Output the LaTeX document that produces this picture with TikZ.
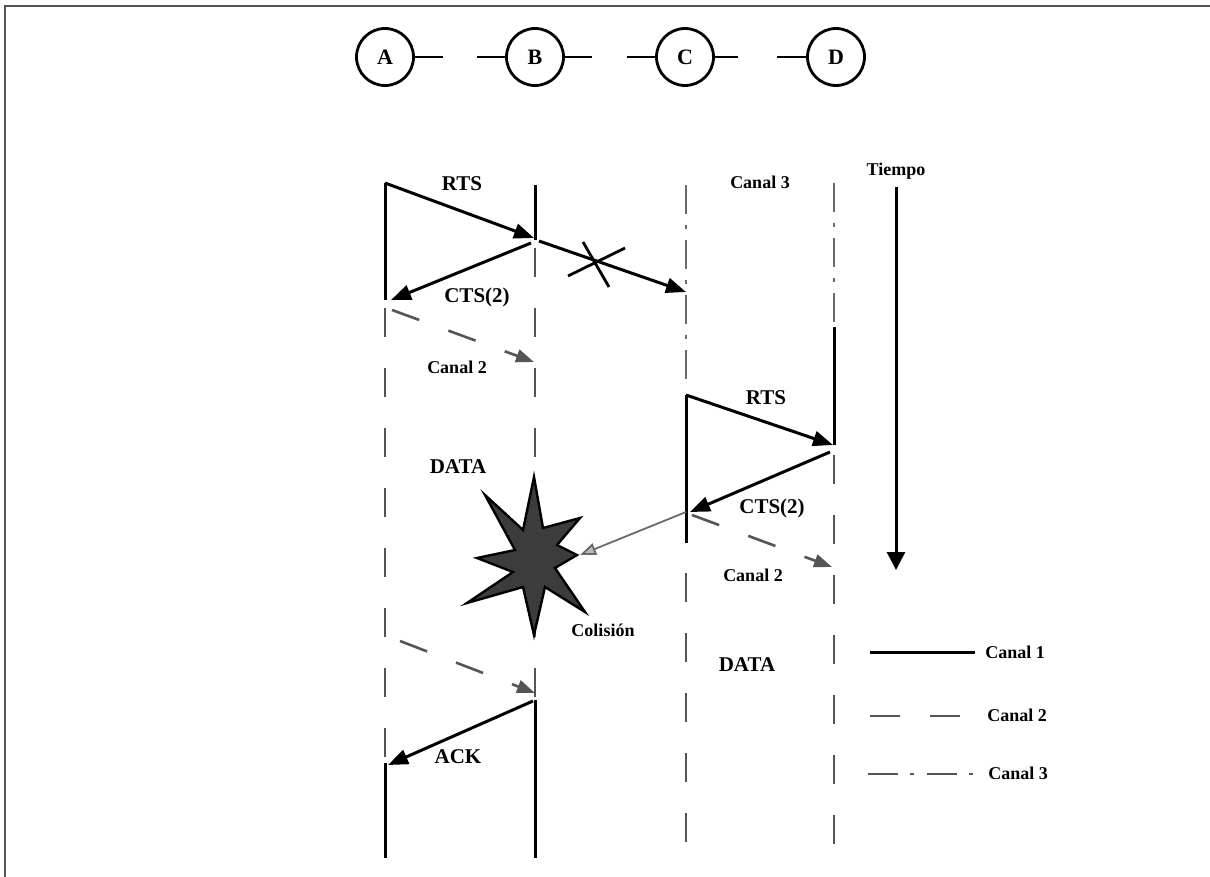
\documentclass[tikz,border=0pt]{standalone}
\usepackage{fontspec}
\setmainfont{Liberation Serif}
\usetikzlibrary{arrows.meta}
\definecolor{dgray}{HTML}{555555}
\definecolor{lgray}{HTML}{6A6A6A}
\definecolor{stargray}{HTML}{3C3C3C}
\begin{document}
\begin{tikzpicture}[x=1pt,y=-1pt,
  big/.style={font=\bfseries\fontsize{21}{25}\selectfont, inner sep=0pt},
  small/.style={font=\bfseries\fontsize{18}{21}\selectfont, inner sep=0pt},
  station/.style={circle, draw, line width=2.8pt, minimum size=57pt, inner sep=0pt, font=\bfseries\fontsize{22}{26}\selectfont},
  stub/.style={line width=2.8pt},
  chone/.style={line width=3pt, black},
  chtwo/.style={line width=2.6pt, dgray, dash pattern=on 29pt off 31pt},
  chthree/.style={line width=2.6pt, lgray, dash pattern=on 29pt off 11pt on 4pt off 11pt},
  msg/.style={line width=3pt, black, -{Triangle[length=20pt,width=15pt]}},
  dmsg/.style={line width=2.6pt, dgray, dash pattern=on 29pt off 31pt, -{Triangle[length=18pt,width=13pt,fill=dgray]}},
]
\useasboundingbox (0,0) rectangle (1210,877);
% frame
\draw[line width=1.8pt, dgray] (5,877) -- (5,6) -- (1210,6);

% stations
\node[station] (A) at (385,57) {A};
\node[station] (B) at (535,57) {B};
\node[station] (C) at (685,57) {C};
\node[station] (D) at (836,57) {D};
\draw[stub] (A.east) -- ++(28,0);
\draw[stub] (B.west) -- ++(-28,0);
\draw[stub] (B.east) -- ++(27,0);
\draw[stub] (C.west) -- ++(-28,0);
\draw[stub] (C.east) -- ++(23,0);
\draw[stub] (D.west) -- ++(-29,0);

% lane coordinates
\coordinate (A1) at (385,183); \coordinate (A2) at (385,300);
\coordinate (A3) at (385,308); \coordinate (A4) at (385,760);
\coordinate (A5) at (385,763); \coordinate (A6) at (385,858);
\coordinate (B1) at (535,185); \coordinate (B2) at (535,240);
\coordinate (B3) at (535,248); \coordinate (B4) at (535,698);
\coordinate (B5) at (535,700); \coordinate (B6) at (535,858);
\coordinate (C1) at (686,185); \coordinate (C2) at (686,390);
\coordinate (C3) at (686,395); \coordinate (C4) at (686,543);
\coordinate (C5) at (686,573); \coordinate (C6) at (686,858);
\coordinate (D1) at (834,183); \coordinate (D2) at (834,327);
\coordinate (D3) at (834,445); \coordinate (D4) at (834,455);
\coordinate (D6) at (834,858);

% lanes
\draw[chone] (A1) -- (A2);
\draw[chtwo] (A3) -- (A4);
\draw[chone] (A5) -- (A6);
\draw[chone] (B1) -- (B2);
\draw[chtwo] (B3) -- (B4);
\draw[chone] (B5) -- (B6);
\draw[chthree] (C1) -- (C2);
\draw[chone] (C3) -- (C4);
\draw[chtwo] (C5) -- (C6);
\draw[chthree] (D1) -- (D2);
\draw[chone] (D2) -- (D3);
\draw[chtwo] (D4) -- (D6);

% message end points
\coordinate (rts1e) at (534,238);
\coordinate (cts1s) at (531,243);
\coordinate (cts1e) at (391,300);
\coordinate (xs) at (539,241);
\coordinate (xe) at (686,292);
\coordinate (c2as) at (392,310);
\coordinate (c2ae) at (534,362);
\coordinate (rts2e) at (833,445);
\coordinate (cts2s) at (830,452);
\coordinate (cts2e) at (690,512);
\coordinate (gs) at (686,512);
\coordinate (starR) at (580,555);
\coordinate (c2bs) at (692,515);
\coordinate (c2be) at (832,567);
\coordinate (c2cs) at (400,641);
\coordinate (c2ce) at (535,693);
\coordinate (acks) at (533,701);
\coordinate (acke) at (388,765);

% messages
\draw[msg] (A1) -- (rts1e);
\draw[msg] (cts1s) -- (cts1e);
\draw[msg] (xs) -- (xe);
\coordinate (x1a) at (568,276); \coordinate (x1b) at (625,248);
\coordinate (x2a) at (583,242); \coordinate (x2b) at (609,287);
\draw[line width=2.8pt] (x1a) -- (x1b);
\draw[line width=2.8pt] (x2a) -- (x2b);
\draw[dmsg] (c2as) -- (c2ae);
\draw[msg] (C3) -- (rts2e);
\draw[msg] (cts2s) -- (cts2e);
\draw[dmsg] (c2bs) -- (c2be);
\draw[dmsg] (c2cs) -- (c2ce);
\draw[msg] (acks) -- (acke);

% star (collision)
\draw[line width=2.4pt, fill=stargray, line join=miter]
  (534,477) -- (543,528) -- (580,518) -- (557,545) -- (577,555) -- (555,568)
  -- (585,612) -- (545,587) -- (534,635) -- (523,587) -- (467,603) -- (513,572)
  -- (477,558) -- (515,550) -- (485,495) -- (523,530) -- cycle;
\draw[line width=1.8pt, lgray, -{Triangle[length=16pt,width=12pt,fill=gray!55]}] (gs) -- (starR);

% time axis
\coordinate (t1) at (896,187); \coordinate (t2) at (896,570);
\draw[line width=3pt, -{Triangle[length=18pt,width=18pt]}] (t1) -- (t2);

% labels
\node[big] (lrts1) at (462,184) {RTS};
\node[big] (lcts1) at (477,297) {CTS(2)};
\node[small] (lc2a) at (457,367) {Canal 2};
\node[small] (lc3) at (760,182) {Canal 3};
\node[small] (ltiempo) at (896,171) {Tiempo};
\node[big] (lrts2) at (766,398) {RTS};
\node[big] (ldata1) at (458,467) {DATA};
\node[big] (lcts2) at (772,508) {CTS(2)};
\node[small] (lc2b) at (753,575) {Canal 2};
\node[small] (lcol) at (603,630) {Colisión};
\node[big] (ldata2) at (747,665) {DATA};
\node[big] (lack) at (458,757) {ACK};

% legend
\coordinate (g1a) at (870,652); \coordinate (g1b) at (975,652);
\coordinate (g2a) at (870,716); \coordinate (g2b) at (960,716);
\coordinate (g3a) at (868,774); \coordinate (g3b) at (974,774);
\draw[line width=3pt] (g1a) -- (g1b);
\draw[line width=2.6pt, dgray, dash pattern=on 30pt off 30pt] (g2a) -- (g2b);
\draw[line width=2.6pt, dgray, dash pattern=on 30pt off 12pt on 4pt off 13pt] (g3a) -- (g3b);
\node[small] (lg1) at (1015,652) {Canal 1};
\node[small] (lg2) at (1017,715) {Canal 2};
\node[small] (lg3) at (1018,773) {Canal 3};
\end{tikzpicture}
\end{document}
